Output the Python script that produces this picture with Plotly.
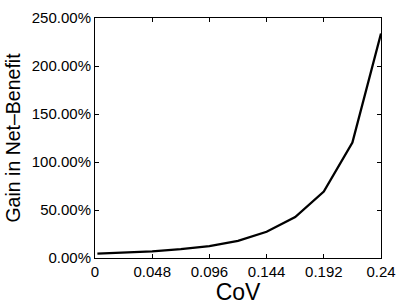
import plotly.graph_objects as go

cov = [0.002, 0.024, 0.048, 0.072, 0.096, 0.12, 0.144, 0.168, 0.192, 0.216, 0.24]
gain = [4.6, 5.6, 7.0, 9.2, 12.4, 17.9, 27.3, 42.7, 69.2, 120.2, 233.9]

x_ticks = [0, 0.048, 0.096, 0.144, 0.192, 0.24]
x_labels = ["0", "0.048", "0.096", "0.144", "0.192", "0.24"]
y_ticks = [0, 50, 100, 150, 200, 250]
y_labels = ["0.00%", "50.00%", "100.00%", "150.00%", "200.00%", "250.00%"]

font = "Liberation Sans, Arial, Helvetica, sans-serif"

fig = go.Figure()
fig.add_trace(go.Scatter(x=cov, y=gain, mode="lines",
                         line=dict(color="black", width=2.3), showlegend=False))

axis_common = dict(showgrid=False, zeroline=False, showline=True, linecolor="black",
                   linewidth=1, mirror="ticks", ticks="inside", ticklen=4,
                   tickcolor="black", tickfont=dict(family=font, size=15, color="black"))

fig.update_layout(
    width=406, height=305,
    margin=dict(l=95, r=25, t=9, b=40),
    paper_bgcolor="white", plot_bgcolor="white",
    xaxis=dict(range=[0, 0.24], tickvals=x_ticks, ticktext=x_labels,
               title=dict(text="CoV", font=dict(family=font, size=23, color="black"), standoff=0),
               **axis_common),
    yaxis=dict(range=[0, 250], tickvals=y_ticks, ticktext=y_labels,
               title=dict(text="Gain in Net\u2013Benefit", font=dict(family=font, size=19.5, color="black"), standoff=5),
               **axis_common),
)
fig.write_html("out.html", config={"displayModeBar": False},
               post_script="document.body.style.margin='0';document.body.style.overflow='hidden';")
